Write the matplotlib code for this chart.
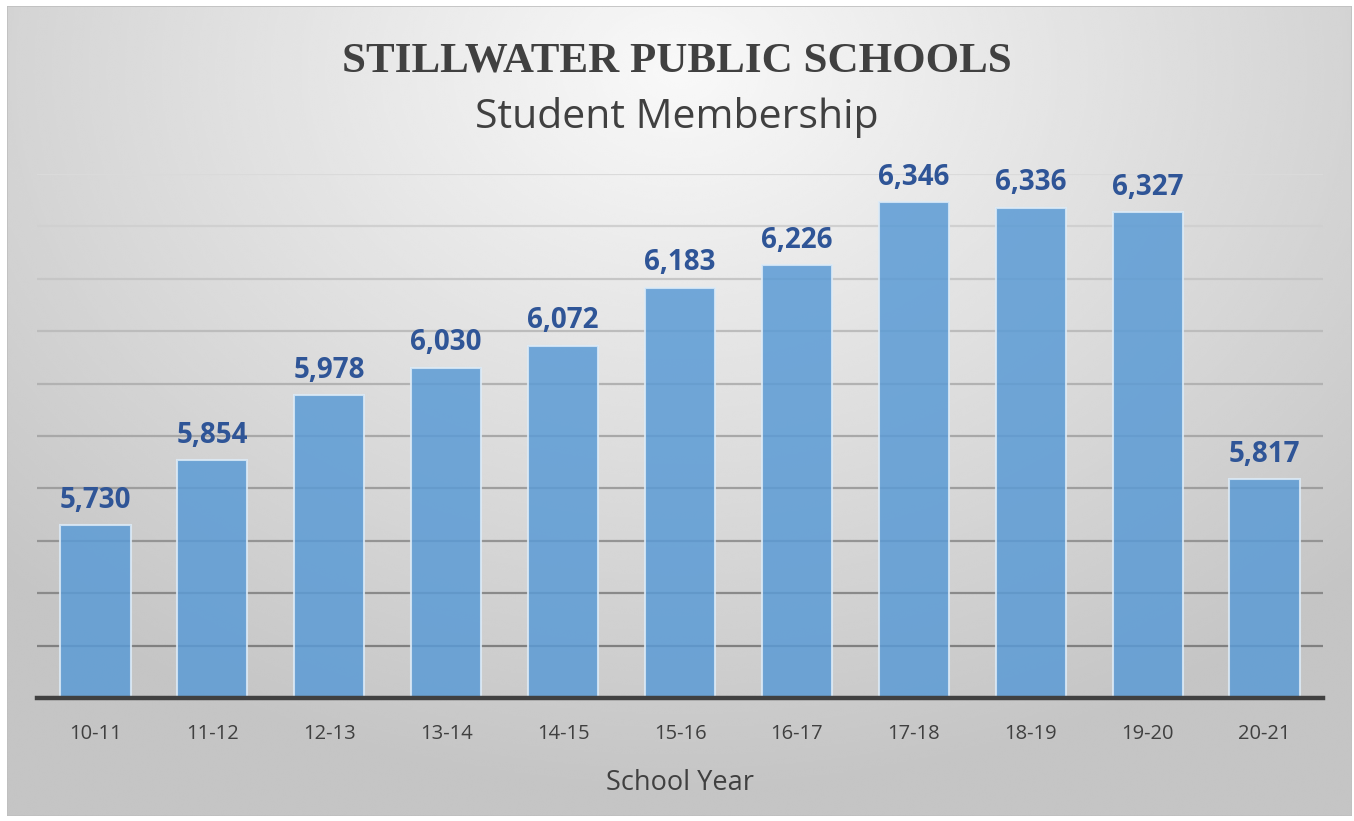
import numpy as np
import matplotlib.pyplot as plt
from matplotlib.patches import Rectangle
from matplotlib.colors import to_rgb

# DATA
years = ['10-11', '11-12', '12-13', '13-14', '14-15', '15-16',
         '16-17', '17-18', '18-19', '19-20', '20-21']
members = [5730, 5854, 5978, 6030, 6072, 6183, 6226, 6346, 6336, 6327, 5817]
grid_levels = [5500, 5600, 5700, 5800, 5900, 6000, 6100, 6200, 6300, 6400]

# FIGURE
fig = plt.figure(figsize=(13.54, 8.21), dpi=100)
fig.patch.set_facecolor('white')

# background with radial gradient, light at the top middle
bg = fig.add_axes([7 / 1354, 5 / 821, 1345 / 1354, 810 / 821])
bg.set_axis_off()
yy, xx = np.mgrid[0:1:400j, 0:1:700j]
dist = np.sqrt(((xx - 0.5) * 1.2) ** 2 + ((yy - 0.08) * 0.95) ** 2)
shade = np.clip(0.975 - 0.24 * dist, 0.77, 0.975)
bg.imshow(shade, cmap='gray', vmin=0, vmax=1, aspect='auto',
          extent=[0, 1, 1, 0], interpolation='bicubic')
bg.add_patch(Rectangle((0, 0), 1, 1, transform=bg.transAxes, fill=False,
                       edgecolor='#BFBFBF', lw=1.2))

# PLOT
ax = fig.add_axes([37 / 1354, 123 / 821, 1286 / 1354, 524 / 821])
ax.patch.set_alpha(0)

x = np.arange(len(years))

# gridlines get darker toward the bottom
top_c = np.array(to_rgb('#DADADA'))
bot_c = np.array(to_rgb('#808080'))
for i, lvl in enumerate(grid_levels):
    t = i / (len(grid_levels) - 1)
    c = bot_c + (top_c - bot_c) * t
    ax.axhline(lvl, color=c, lw=1.6, zorder=1)

ax.bar(x, members, width=0.6, bottom=0, color='#5B9BD5', alpha=0.85,
       edgecolor='#DDEBF7', linewidth=1.5, zorder=2)

for xi, v in zip(x, members):
    ax.text(xi, v + 20, f'{v:,}', ha='center', va='bottom',
            fontsize=20, fontweight='bold', color='#2F5597',
            family='Open Sans', zorder=3)

ax.set_xlim(-0.5, len(years) - 0.5)
ax.set_ylim(5400, 6400)
ax.set_yticks([])
ax.set_xticks(x)
ax.set_xticklabels(years, fontsize=14.5, color='#404040', family='Open Sans')
ax.tick_params(axis='x', length=0, pad=19)
for s in ['top', 'right', 'left']:
    ax.spines[s].set_visible(False)
ax.spines['bottom'].set_color('#404040')
ax.spines['bottom'].set_linewidth(3.2)
ax.spines['bottom'].set_zorder(4)

ax.set_xlabel('School Year', fontsize=19.5, color='#404040',
              family='Open Sans', labelpad=18)

fig.text(0.5, 1 - 61 / 821, 'STILLWATER PUBLIC SCHOOLS', ha='center',
         va='center', fontsize=31, fontweight='bold', color='#404040',
         family='Liberation Serif')
fig.text(0.5, 1 - 118 / 821, 'Student Membership', ha='center',
         va='center', fontsize=29.5, color='#404040', family='Open Sans')

plt.savefig('out.png', dpi=100)
